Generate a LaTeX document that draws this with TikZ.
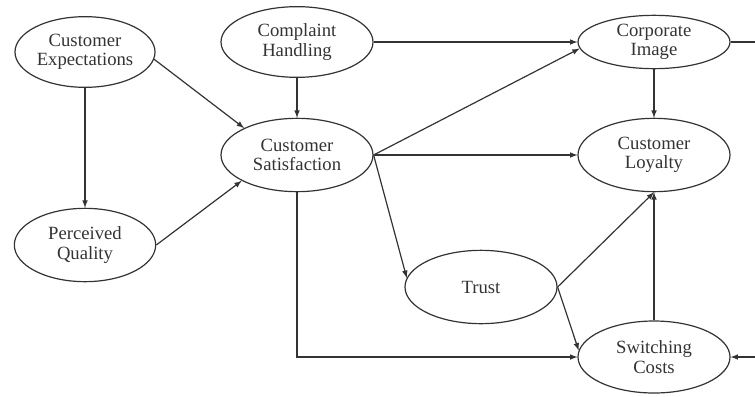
\documentclass[tikz,border=0pt]{standalone}
\usepackage{fontspec}
\setmainfont{Liberation Serif}
\usetikzlibrary{shapes.geometric,arrows}
\tikzstyle{construct}=[ellipse,draw=black!80,line width=0.9pt,align=center,inner sep=0pt,minimum width=114pt,minimum height=55pt,text=black!80,font=\fontsize{14}{14.5}\selectfont]
\tikzstyle{link}=[->,>=latex,line width=0.9pt,draw=black!80]

\begin{document}
\begin{tikzpicture}[x=0.75pt,y=-0.75pt]
	\useasboundingbox (0,0) rectangle (755,396);
	% constructs
	\node[construct,minimum width=105pt,minimum height=53pt] (expect) at (85,52) {Customer\\Expectations};
	\node[construct,minimum width=106pt] (quality) at (85,245) {Perceived\\Quality};
	\node[construct,minimum height=53pt] (complaint) at (297,42) {Complaint\\Handling};
	\node[construct] (satisf) at (297,155) {Customer\\Satisfaction};
	\node[construct,minimum height=40pt] (image) at (654,42) {Corporate\\Image};
	\node[construct] (loyalty) at (654,155) {Customer\\Loyalty};
	\node[construct] (trust) at (481,287) {Trust};
	\node[construct,minimum height=54pt] (switching) at (654,357) {Switching\\Costs};
	% loose ends at the right border
	\coordinate (imageout) at (755,42);
	\coordinate (switchingin) at (755,357);
	% paths
	\draw[link] (expect.-6) -- (satisf.153);
	\draw[link] (expect.south) -- (quality.north);
	\draw[link] (quality.east) -- (satisf.205);
	\draw[link] (complaint.south) -- (satisf.north);
	\draw[link] (complaint.east) -- (image.west);
	\draw[link] (satisf.east) -- (image.185);
	\draw[link] (satisf.east) -- (loyalty.west);
	\draw[link] (satisf.east) -- (trust.173);
	\draw[link] (satisf.south) |- (switching.west);
	\draw[link] (image.south) -- (loyalty.north);
	\draw[link] (trust.east) -- (loyalty.south);
	\draw[link] (trust.east) -- (switching.175);
	\draw[link] (switching.north) -- (loyalty.south);
	\draw[link] (switchingin) -- (switching.east);
	\draw[line width=0.9pt,black!80] (image.east) -- (imageout);
\end{tikzpicture}
\end{document}
